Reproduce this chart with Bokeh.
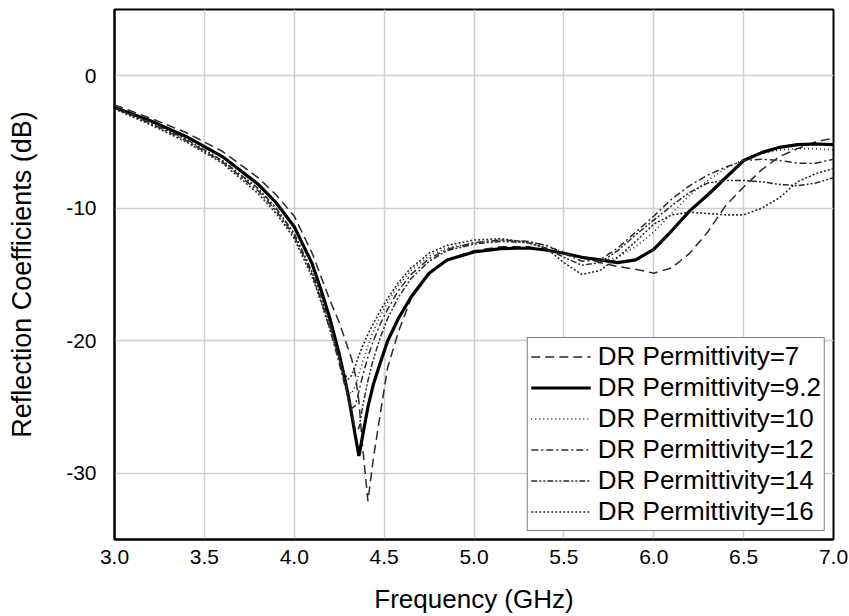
from bokeh.plotting import figure
from bokeh.models import FixedTicker, Legend, LegendItem, NumeralTickFormatter, Range1d
from bokeh.embed import file_html
from bokeh.resources import INLINE

freq = [3.0, 3.2, 3.4, 3.6, 3.8, 3.9, 4.0, 4.1, 4.15, 4.2, 4.25, 4.28, 4.3, 4.32, 4.34,
        4.36, 4.38, 4.41, 4.44, 4.48, 4.52, 4.58, 4.65, 4.75, 4.85, 5.0, 5.15, 5.3, 5.4,
        5.5, 5.6, 5.7, 5.8, 5.9, 6.0, 6.1, 6.2, 6.3, 6.4, 6.5, 6.6, 6.7, 6.8, 6.9, 7.0]

eps_7 = [-2.2, -3.2, -4.3, -5.7, -7.7, -9.0, -10.6, -13.4, -15.2, -17.0, -18.6, -19.8, -20.6,
         -21.4, -22.6, -24.6, -28.0, -32.1, -28.9, -25.4, -22.0, -19.3, -16.8, -14.9, -13.9,
         -13.2, -12.9, -12.9, -13.1, -13.4, -13.7, -14.1, -14.4, -14.6, -14.9, -14.5, -13.4,
         -11.8, -9.8, -8.4, -7.1, -6.1, -5.5, -5.0, -4.7]
eps_9_2 = [-2.4, -3.4, -4.6, -6.1, -8.2, -9.6, -11.4, -14.2, -16.2, -18.4, -21.0, -22.8, -24.1,
           -25.6, -27.2, -28.7, -27.2, -25.0, -23.3, -21.6, -20.0, -18.3, -16.7, -14.9, -13.9,
           -13.3, -13.05, -13.0, -13.15, -13.4, -13.7, -13.9, -14.1, -13.9, -13.1, -11.7, -10.2,
           -9.0, -7.7, -6.4, -5.8, -5.4, -5.2, -5.15, -5.2]
eps_10 = [-2.5, -3.6, -4.8, -6.4, -8.6, -10.1, -12.0, -14.9, -16.8, -19.0, -21.4, -22.9, -23.8,
          -24.0, -23.4, -22.5, -21.6, -20.4, -19.3, -18.1, -17.1, -15.8, -14.7, -13.6, -13.0,
          -12.6, -12.4, -12.5, -12.8, -13.3, -13.8, -14.0, -13.7, -12.9, -11.8, -10.4, -9.0,
          -7.9, -7.0, -6.3, -5.9, -5.6, -5.5, -5.5, -5.6]
eps_12 = [-2.4, -3.6, -4.9, -6.5, -8.7, -10.2, -12.1, -15.0, -17.0, -19.2, -21.7, -23.3, -24.3,
          -25.1, -24.9, -23.8, -22.7, -21.2, -20.0, -18.7, -17.6, -16.2, -15.0, -13.8, -13.1,
          -12.6, -12.4, -12.5, -12.8, -13.4, -14.0, -13.9, -13.0, -11.8, -10.6, -9.3, -8.3,
          -7.5, -6.9, -6.4, -6.3, -6.4, -6.6, -6.6, -6.3]
eps_14 = [-2.4, -3.5, -4.8, -6.4, -8.5, -10.0, -11.9, -14.8, -16.7, -18.8, -21.3, -23.0, -24.2,
          -25.5, -26.7, -26.6, -25.0, -23.0, -21.4, -19.7, -18.3, -16.7, -15.3, -14.0, -13.2,
          -12.7, -12.5, -12.6, -13.0, -13.7, -14.3, -14.1, -13.2, -12.0, -10.9, -9.8, -8.8,
          -8.1, -7.9, -7.9, -8.0, -8.2, -8.3, -8.1, -7.7]
eps_16 = [-2.5, -3.7, -5.0, -6.6, -8.9, -10.4, -12.3, -15.2, -17.1, -19.2, -21.4, -22.5, -22.9,
          -22.6, -21.9, -21.1, -20.4, -19.5, -18.7, -17.7, -16.8, -15.6, -14.5, -13.4, -12.8,
          -12.4, -12.3, -12.6, -13.0, -14.1, -15.0, -14.7, -13.7, -12.5, -11.2, -10.5, -10.3,
          -10.4, -10.5, -10.5, -10.0, -9.2, -8.0, -7.4, -7.0]

labels = ["DR Permittivity=7", "DR Permittivity=9.2", "DR Permittivity=10",
          "DR Permittivity=12", "DR Permittivity=14", "DR Permittivity=16"]
x_ticks = [3.0, 3.5, 4.0, 4.5, 5.0, 5.5, 6.0, 6.5, 7.0]
y_ticks = [-30, -20, -10, 0]

series = [eps_7, eps_9_2, eps_10, eps_12, eps_14, eps_16]
styles = [
    dict(line_dash="9 5", line_width=1.5, line_color="#2a2a2a"),
    dict(line_dash="solid", line_width=3.2, line_color="#000000"),
    dict(line_dash="1 3", line_width=1.6, line_color="#2a2a2a"),
    dict(line_dash="7 3 2 3", line_width=1.5, line_color="#2a2a2a"),
    dict(line_dash="6 2 2 2 2 2", line_width=1.5, line_color="#2a2a2a"),
    dict(line_dash="2 2", line_width=1.6, line_color="#2a2a2a"),
]

p = figure(width=849, height=616, output_backend="svg", toolbar_location=None,
           x_range=Range1d(3.0, 7.0), y_range=Range1d(-35, 5),
           min_border_left=114, min_border_right=16, min_border_top=9, min_border_bottom=77)

items = []
for data, lab, st in zip(series, labels, styles):
    r = p.line(freq, data, **st)
    items.append(LegendItem(label=lab, renderers=[r]))

p.outline_line_color = "black"
p.outline_line_width = 2
p.background_fill_color = "white"
p.border_fill_color = "white"

p.xaxis.ticker = FixedTicker(ticks=x_ticks)
p.yaxis.ticker = FixedTicker(ticks=y_ticks)
p.xaxis.formatter = NumeralTickFormatter(format="0.0")
p.yaxis.formatter = NumeralTickFormatter(format="0")
for ax in (p.xaxis, p.yaxis):
    ax.major_tick_line_color = None
    ax.minor_tick_line_color = None
    ax.axis_line_color = "black"
    ax.axis_line_width = 2
    ax.major_label_text_font = "Liberation Sans"
    ax.major_label_text_font_size = "21px"
    ax.major_label_text_color = "black"
    ax.axis_label_text_font = "Liberation Sans"
    ax.axis_label_text_font_style = "normal"
    ax.axis_label_text_color = "black"

p.xaxis.axis_label_text_font_size = "26px"
p.yaxis.axis_label_text_font_size = "27px"
p.xaxis.axis_label = "Frequency (GHz)"
p.yaxis.axis_label = "Reflection Coefficients (dB)"
p.xaxis.major_label_standoff = 4
p.yaxis.major_label_standoff = 12
p.xaxis.axis_label_standoff = 17
p.yaxis.axis_label_standoff = 26

p.xgrid.grid_line_color = "#cfcfcf"
p.ygrid.grid_line_color = "#cfcfcf"
p.xgrid.grid_line_width = 1.5
p.ygrid.grid_line_width = 1.5

legend = Legend(items=items, location="bottom_right")
legend.label_text_font = "Liberation Sans"
legend.label_text_font_size = "26px"
legend.label_text_color = "black"
legend.glyph_width = 60
legend.glyph_height = 31
legend.label_height = 31
legend.label_standoff = 7
legend.spacing = 0
legend.padding = 3
legend.margin = 8
legend.border_line_color = "black"
legend.border_line_width = 1
legend.background_fill_color = "white"
legend.background_fill_alpha = 1.0
p.add_layout(legend)

open("out.html", "w").write(file_html(p, INLINE))
